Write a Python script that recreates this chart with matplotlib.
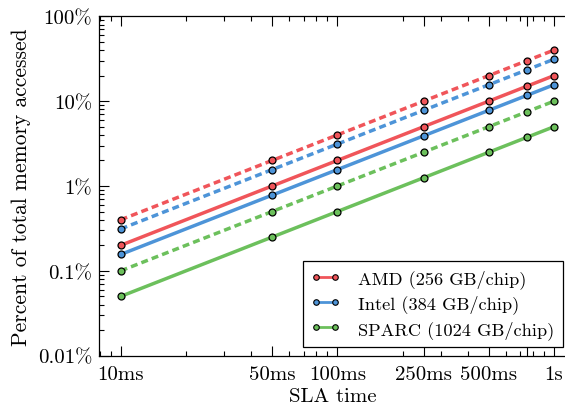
import matplotlib
matplotlib.use("Agg")
import matplotlib.pyplot as plt
from matplotlib.ticker import FixedLocator, FixedFormatter, LogLocator, NullFormatter

plt.rcParams['font.family'] = ['cmr10', 'DejaVu Serif']
plt.rcParams['axes.unicode_minus'] = False
plt.rcParams['mathtext.fontset'] = 'cm'

# SLA time in ms
sla_ms = [10, 50, 100, 250, 500, 750, 1000]

# percent of total memory accessed
amd_solid = [0.2, 1.0, 2.0, 5.0, 10.0, 15.0, 20.0]
amd_dotted = [0.4, 2.0, 4.0, 10.0, 20.0, 30.0, 40.0]
intel_solid = [0.156, 0.78, 1.56, 3.9, 7.8, 11.7, 15.6]
intel_dotted = [0.312, 1.56, 3.12, 7.8, 15.6, 23.4, 31.2]
sparc_solid = [0.05, 0.25, 0.5, 1.25, 2.5, 3.75, 5.0]
sparc_dotted = [0.1, 0.5, 1.0, 2.5, 5.0, 7.5, 10.0]

labels = ['AMD (256 GB/chip)', 'Intel (384 GB/chip)', 'SPARC (1024 GB/chip)']
colors = ['#f0555a', '#4d94d8', '#6cc05c']

x_ticks = [10, 50, 100, 250, 500, 750, 1000]
x_ticklabels = ['10ms', '50ms', '100ms', '250ms', '500ms', '', '1s']
y_ticks = [0.01, 0.1, 1, 10, 100]
y_ticklabels = ['0.01%', '0.1%', '1%', '10%', '100%']

fig = plt.figure(figsize=(5.65, 4.06), dpi=100)
ax = fig.add_axes([0.1758, 0.1214, 0.8260, 0.8360])

solids = [amd_solid, intel_solid, sparc_solid]
dotteds = [amd_dotted, intel_dotted, sparc_dotted]
mk = dict(marker='o', markersize=5, markeredgecolor='black', markeredgewidth=0.9)
for s, d, c, lab in zip(solids, dotteds, colors, labels):
    ax.plot(sla_ms, d, color=c, lw=2.5, linestyle=(0, (2.0, 1.2)), markerfacecolor=c, **mk)
    ax.plot(sla_ms, s, color=c, lw=2.5, label=lab, markerfacecolor=c, **mk)

ax.set_xscale('log')
ax.set_yscale('log')
ax.set_xlim(7.97, 1136)
ax.set_ylim(0.01, 100)

ax.xaxis.set_major_locator(FixedLocator(x_ticks))
ax.xaxis.set_major_formatter(FixedFormatter(x_ticklabels))
ax.xaxis.set_minor_locator(LogLocator(base=10, subs=range(2, 10), numticks=20))
ax.xaxis.set_minor_formatter(NullFormatter())
ax.yaxis.set_major_locator(FixedLocator(y_ticks))
ax.yaxis.set_major_formatter(FixedFormatter(y_ticklabels))
ax.yaxis.set_minor_locator(LogLocator(base=10, subs=range(2, 10), numticks=20))
ax.yaxis.set_minor_formatter(NullFormatter())

ax.tick_params(which='both', direction='in', top=True, right=False, labelsize=15, width=0.8)
ax.tick_params(axis='x', pad=7)
ax.tick_params(axis='y', pad=5)
ax.tick_params(which='major', length=7)
ax.tick_params(which='minor', length=3.5)
ax.spines['right'].set_visible(False)
for sp in ax.spines.values():
    sp.set_linewidth(0.9)

ax.set_xlabel('SLA time', fontsize=15, labelpad=3)
ax.set_ylabel('Percent of total memory accessed', fontsize=15.5, labelpad=5)

leg = ax.legend(loc='lower right', bbox_to_anchor=(0.9935, 0.026), fontsize=13.2, numpoints=2,
                fancybox=False, edgecolor='black', framealpha=1, handlelength=1.6,
                handletextpad=1.0, borderaxespad=0, labelspacing=0.35, borderpad=0.45,
                markerscale=0.8)
leg.get_frame().set_linewidth(0.9)
for h in leg.get_lines():
    h.set_linewidth(2.0)
    h.set_markeredgewidth(0.8)

fig.savefig('out.png', dpi=100)
